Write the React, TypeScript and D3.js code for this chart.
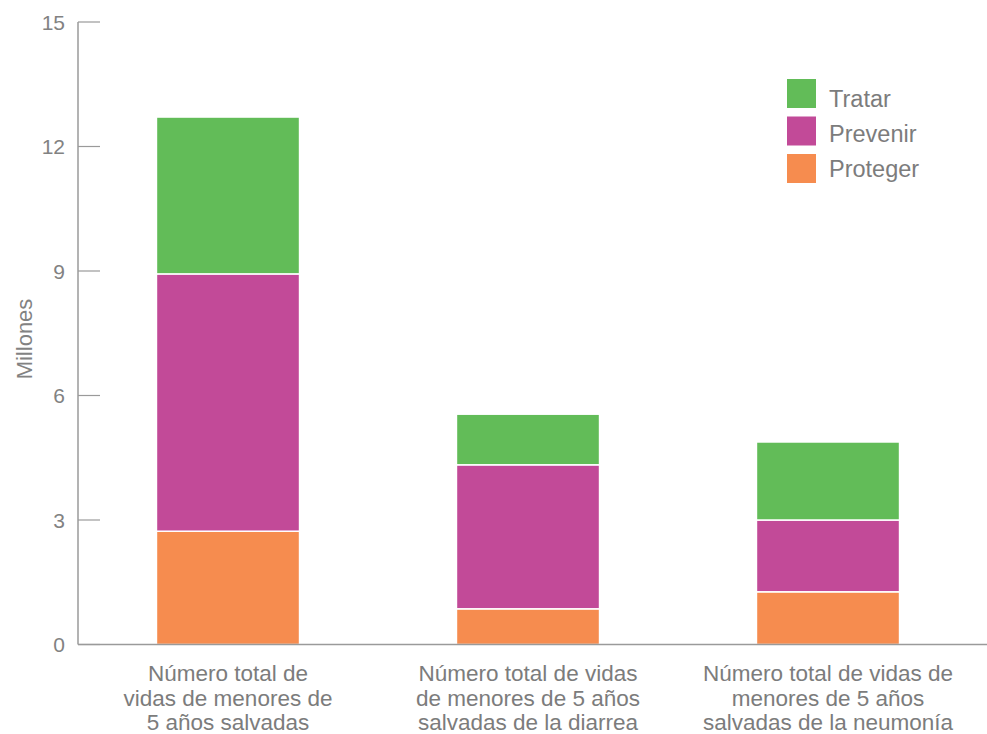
import React from 'react';
import * as d3 from 'd3';

const categories = [
  ['Número total de', 'vidas de menores de', '5 años salvadas'],
  ['Número total de vidas', 'de menores de 5 años', 'salvadas de la diarrea'],
  ['Número total de vidas de', 'menores de 5 años', 'salvadas de la neumonía'],
];
const proteger = [2.73, 0.86, 1.27];
const prevenir = [6.2, 3.47, 1.73];
const tratar = [3.78, 1.22, 1.88];
const yTicks = [0, 3, 6, 9, 12, 15];

const seriesNames = ['Proteger', 'Prevenir', 'Tratar'];
const legendOrder = ['Tratar', 'Prevenir', 'Proteger'];
const colors: Record<string, string> = {
  Proteger: '#f68c4f',
  Prevenir: '#c24a98',
  Tratar: '#62bc58',
};

const W = 987;
const H = 734;
const font = '"Liberation Sans", Arial, sans-serif';

const App: React.FC = () => {
  const rows = categories.map((c, i) => ({
    key: String(i),
    Proteger: proteger[i],
    Prevenir: prevenir[i],
    Tratar: tratar[i],
  }));
  const stacked = d3.stack<any>().keys(seriesNames)(rows);

  const x = d3.scaleBand()
    .domain(rows.map(r => r.key))
    .range([78, 978])
    .paddingInner(0.523)
    .paddingOuter(0.2615);

  const y = d3.scaleLinear().domain([0, 15]).range([644.5, 22]);

  const axisColor = '#9a9a9a';
  const textColor = '#828282';

  return (
    <svg width={W} height={H} style={{ position: 'absolute', left: 0, top: 0, background: '#fff' }}>
      {/* bars */}
      {stacked.map(s => (
        <g key={s.key} fill={colors[s.key]}>
          {s.map((d, i) => (
            <rect
              key={i}
              x={x(rows[i].key)}
              y={y(d[1])}
              width={x.bandwidth()}
              height={y(d[0]) - y(d[1])}
              stroke="#fff"
              strokeWidth={1.5}
            />
          ))}
        </g>
      ))}

      {/* axes */}
      <line x1={78} x2={78} y1={y(15)} y2={y(0)} stroke={axisColor} strokeWidth={1.5} />
      <line x1={78} x2={W} y1={y(0)} y2={y(0)} stroke={axisColor} strokeWidth={1.5} />
      {yTicks.map(t => (
        <g key={t}>
          <line x1={78} x2={100} y1={y(t)} y2={y(t)} stroke={axisColor} strokeWidth={1.2} />
          <text
            x={65}
            y={y(t)}
            dy="0.36em"
            textAnchor="end"
            fontFamily={font}
            fontSize={21}
            fill={textColor}
          >
            {t}
          </text>
        </g>
      ))}
      <text
        transform={`translate(32, 339) rotate(-90)`}
        textAnchor="middle"
        fontFamily={font}
        fontSize={22}
        fill={textColor}
      >
        Millones
      </text>

      {/* category labels */}
      {categories.map((lines, i) => {
        const cx = (x(String(i)) as number) + x.bandwidth() / 2;
        return (
          <text key={i} textAnchor="middle" fontFamily={font} fontSize={22.5} fill="#7c7c7c">
            {lines.map((l, j) => (
              <tspan key={j} x={cx} y={681 + j * 24.5}>
                {l}
              </tspan>
            ))}
          </text>
        );
      })}

      {/* legend */}
      {legendOrder.map((name, i) => (
        <g key={name}>
          <rect x={787} y={79 + i * 37.5} width={29} height={29} fill={colors[name]} />
          <text x={829} y={107 + i * 35} fontFamily={font} fontSize={23.5} fill="#7c7c7c">
            {name}
          </text>
        </g>
      ))}
    </svg>
  );
};

export default App;
